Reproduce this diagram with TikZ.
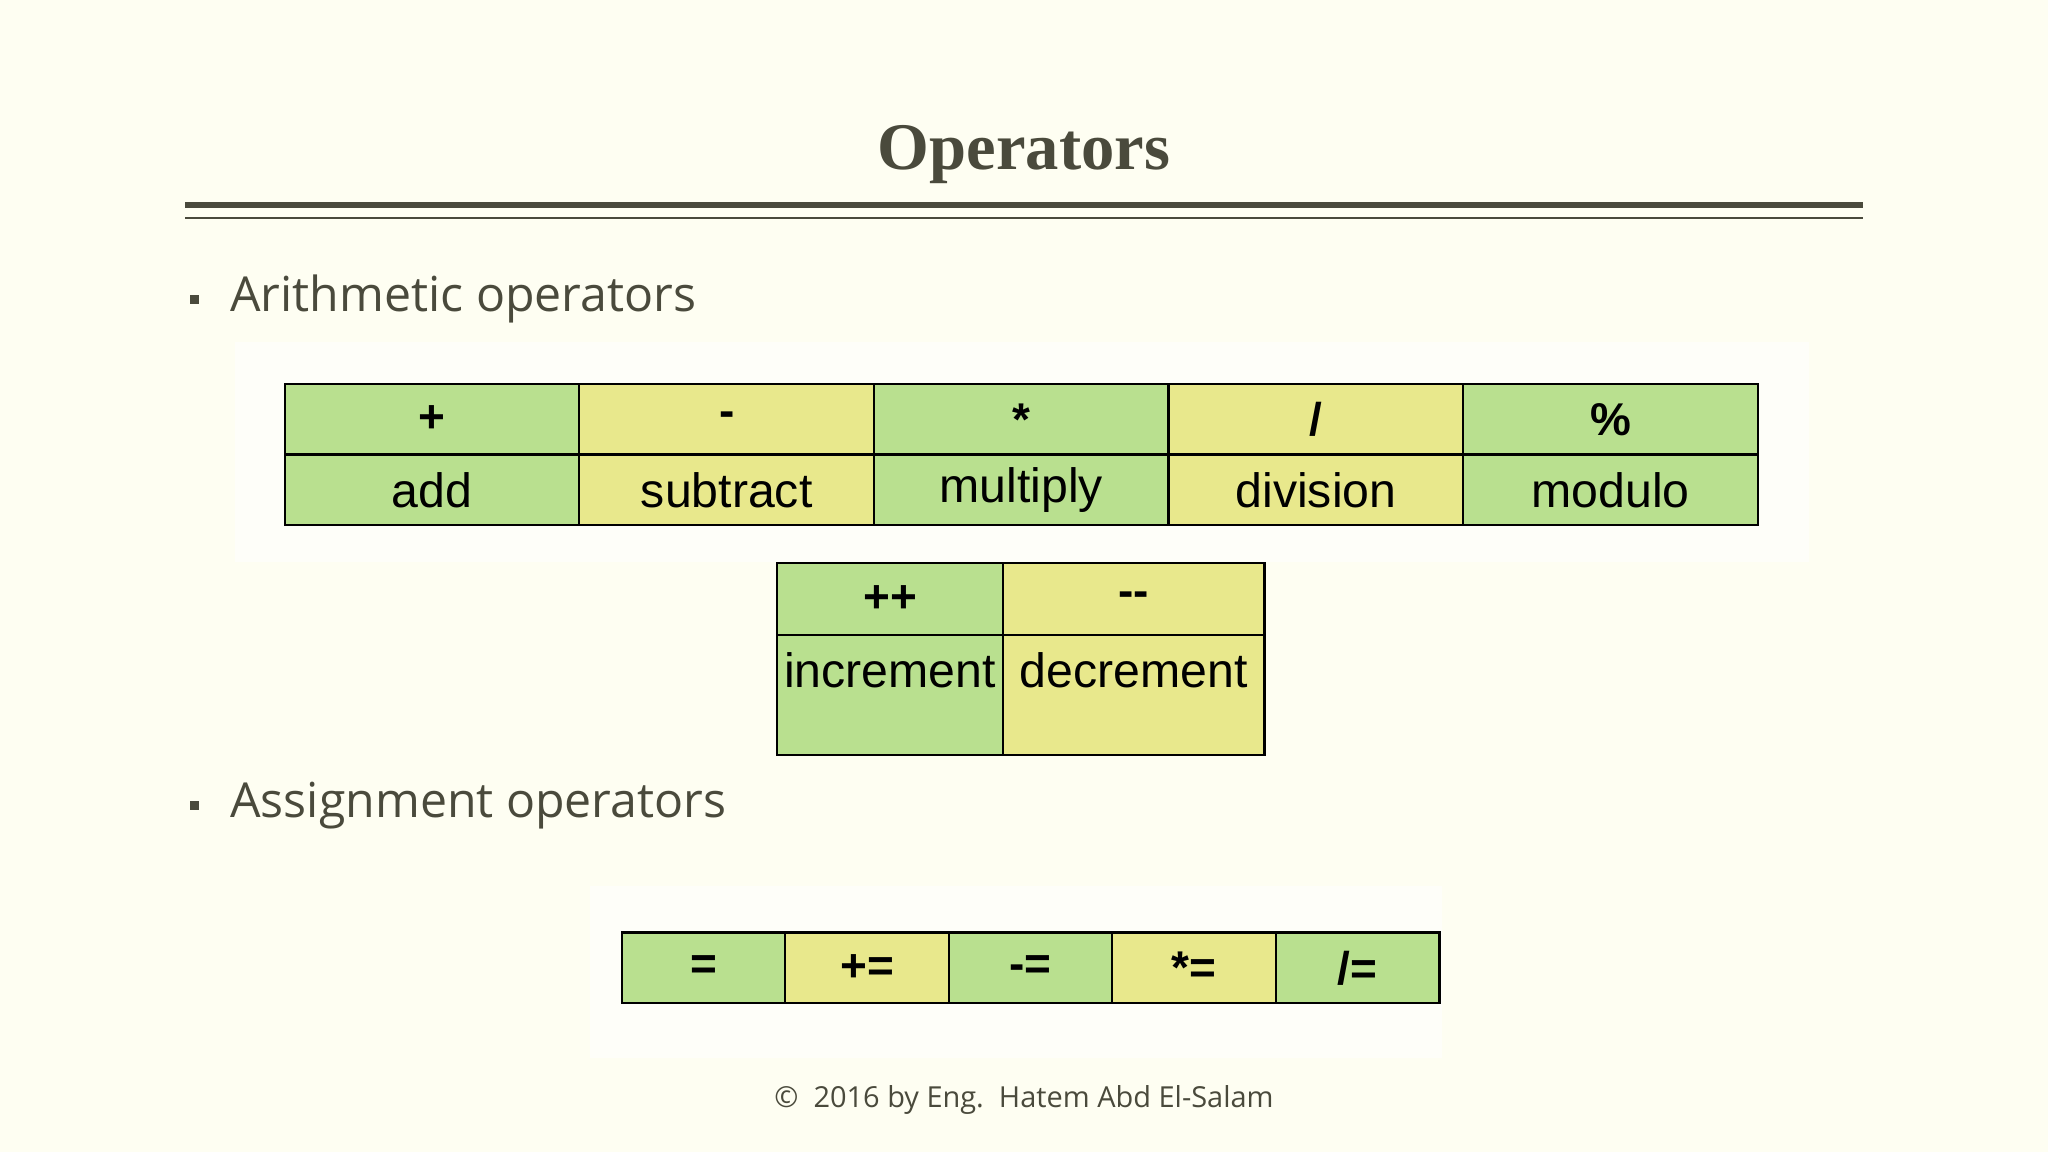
\documentclass[tikz,border=0pt]{standalone}
\usepackage{fontspec}
\setmainfont{Liberation Serif}
\newfontfamily\bodyfont{Open Sans}
\newfontfamily\arialfont{Liberation Sans}
\definecolor{bg}{HTML}{FEFEF2}
\definecolor{ink}{HTML}{4A4A3C}
\definecolor{cgreen}{HTML}{B9E08F}
\definecolor{cyellow}{HTML}{E8E88C}
\begin{document}
\begin{tikzpicture}[x=0.01cm,y=-0.01cm,
  cell/.style={draw=black,line width=0.5pt,inner sep=0pt,font=\arialfont\fontsize{10.5}{12}\selectfont},
  sym/.style={cell,font=\arialfont\bfseries\fontsize{10}{12}\selectfont},
  bullettext/.style={anchor=west,text=ink,font=\bodyfont\fontsize{10.5}{12}\selectfont},
  sq/.style={fill=ink,minimum size=0.07cm,inner sep=0pt}]
\fill[bg] (0,0) rectangle (1568,882);
\useasboundingbox (0,0) rectangle (1568,882);
\fill[white,opacity=0.6] (180,262) rectangle (1385,430);
\fill[white,opacity=0.6] (452,678) rectangle (1104,810);
\node[text=ink,font=\fontsize{14.5}{16}\selectfont\bfseries] (title) at (784,118) {Operators};
\coordinate (l1a) at (142,157); \coordinate (l1b) at (1426,157);
\coordinate (l2a) at (142,167); \coordinate (l2b) at (1426,167);
\draw[ink,line width=1.4pt] (l1a) -- (l1b);
\draw[ink,line width=0.4pt] (l2a) -- (l2b);
\node[sq] (b1) at (149,229) {};
\node[bullettext] (t1) at (164,229) {Arithmetic operators};
\node[sq] (b2) at (149,617) {};
\node[bullettext] (t2) at (164,617) {Assignment operators};
% table 1
\foreach \i/\s/\w/\c in {0/+/add/cgreen,1/-/subtract/cyellow,2/*/multiply/cgreen,3/{/}/division/cyellow,4/\%/modulo/cgreen}{
  \node[sym,fill=\c,minimum width=2.256cm,minimum height=0.54cm] (s\i) at ({330.8+225.6*\i},321) {\s};
  \node[cell,fill=\c,minimum width=2.256cm,minimum height=0.54cm] (w\i) at ({330.8+225.6*\i},375) {\w};
}
% table 2
\node[sym,fill=cgreen,minimum width=1.73cm,minimum height=0.55cm] (inc) at (681.5,458.5) {++};
\node[sym,fill=cyellow,minimum width=2.00cm,minimum height=0.55cm] (dec) at (868,458.5) {-{}-};
\node[cell,fill=cgreen,minimum width=1.73cm,minimum height=0.92cm] (incw) at (681.5,532) {};
\node[cell,fill=cyellow,minimum width=2.00cm,minimum height=0.92cm] (decw) at (868,532) {};
\node[font=\arialfont\fontsize{10.5}{12}\selectfont] (inct) at (681.5,513) {increment};
\node[font=\arialfont\fontsize{10.5}{12}\selectfont] (dect) at (868,513) {decrement};
% table 3
\foreach \i/\s/\c in {0/=/cgreen,1/+=/cyellow,2/-=/cgreen,3/*=/cyellow,4/{/=}/cgreen}{
  \node[sym,fill=\c,minimum width=1.252cm,minimum height=0.54cm] (a\i) at ({538.6+125.2*\i},741) {\s};
}
\node[text=ink,font=\bodyfont\fontsize{6.3}{8}\selectfont] (foot) at (784,842) {©\ \ 2016 by Eng.\ \ Hatem Abd El-Salam};
\end{tikzpicture}
\end{document}
